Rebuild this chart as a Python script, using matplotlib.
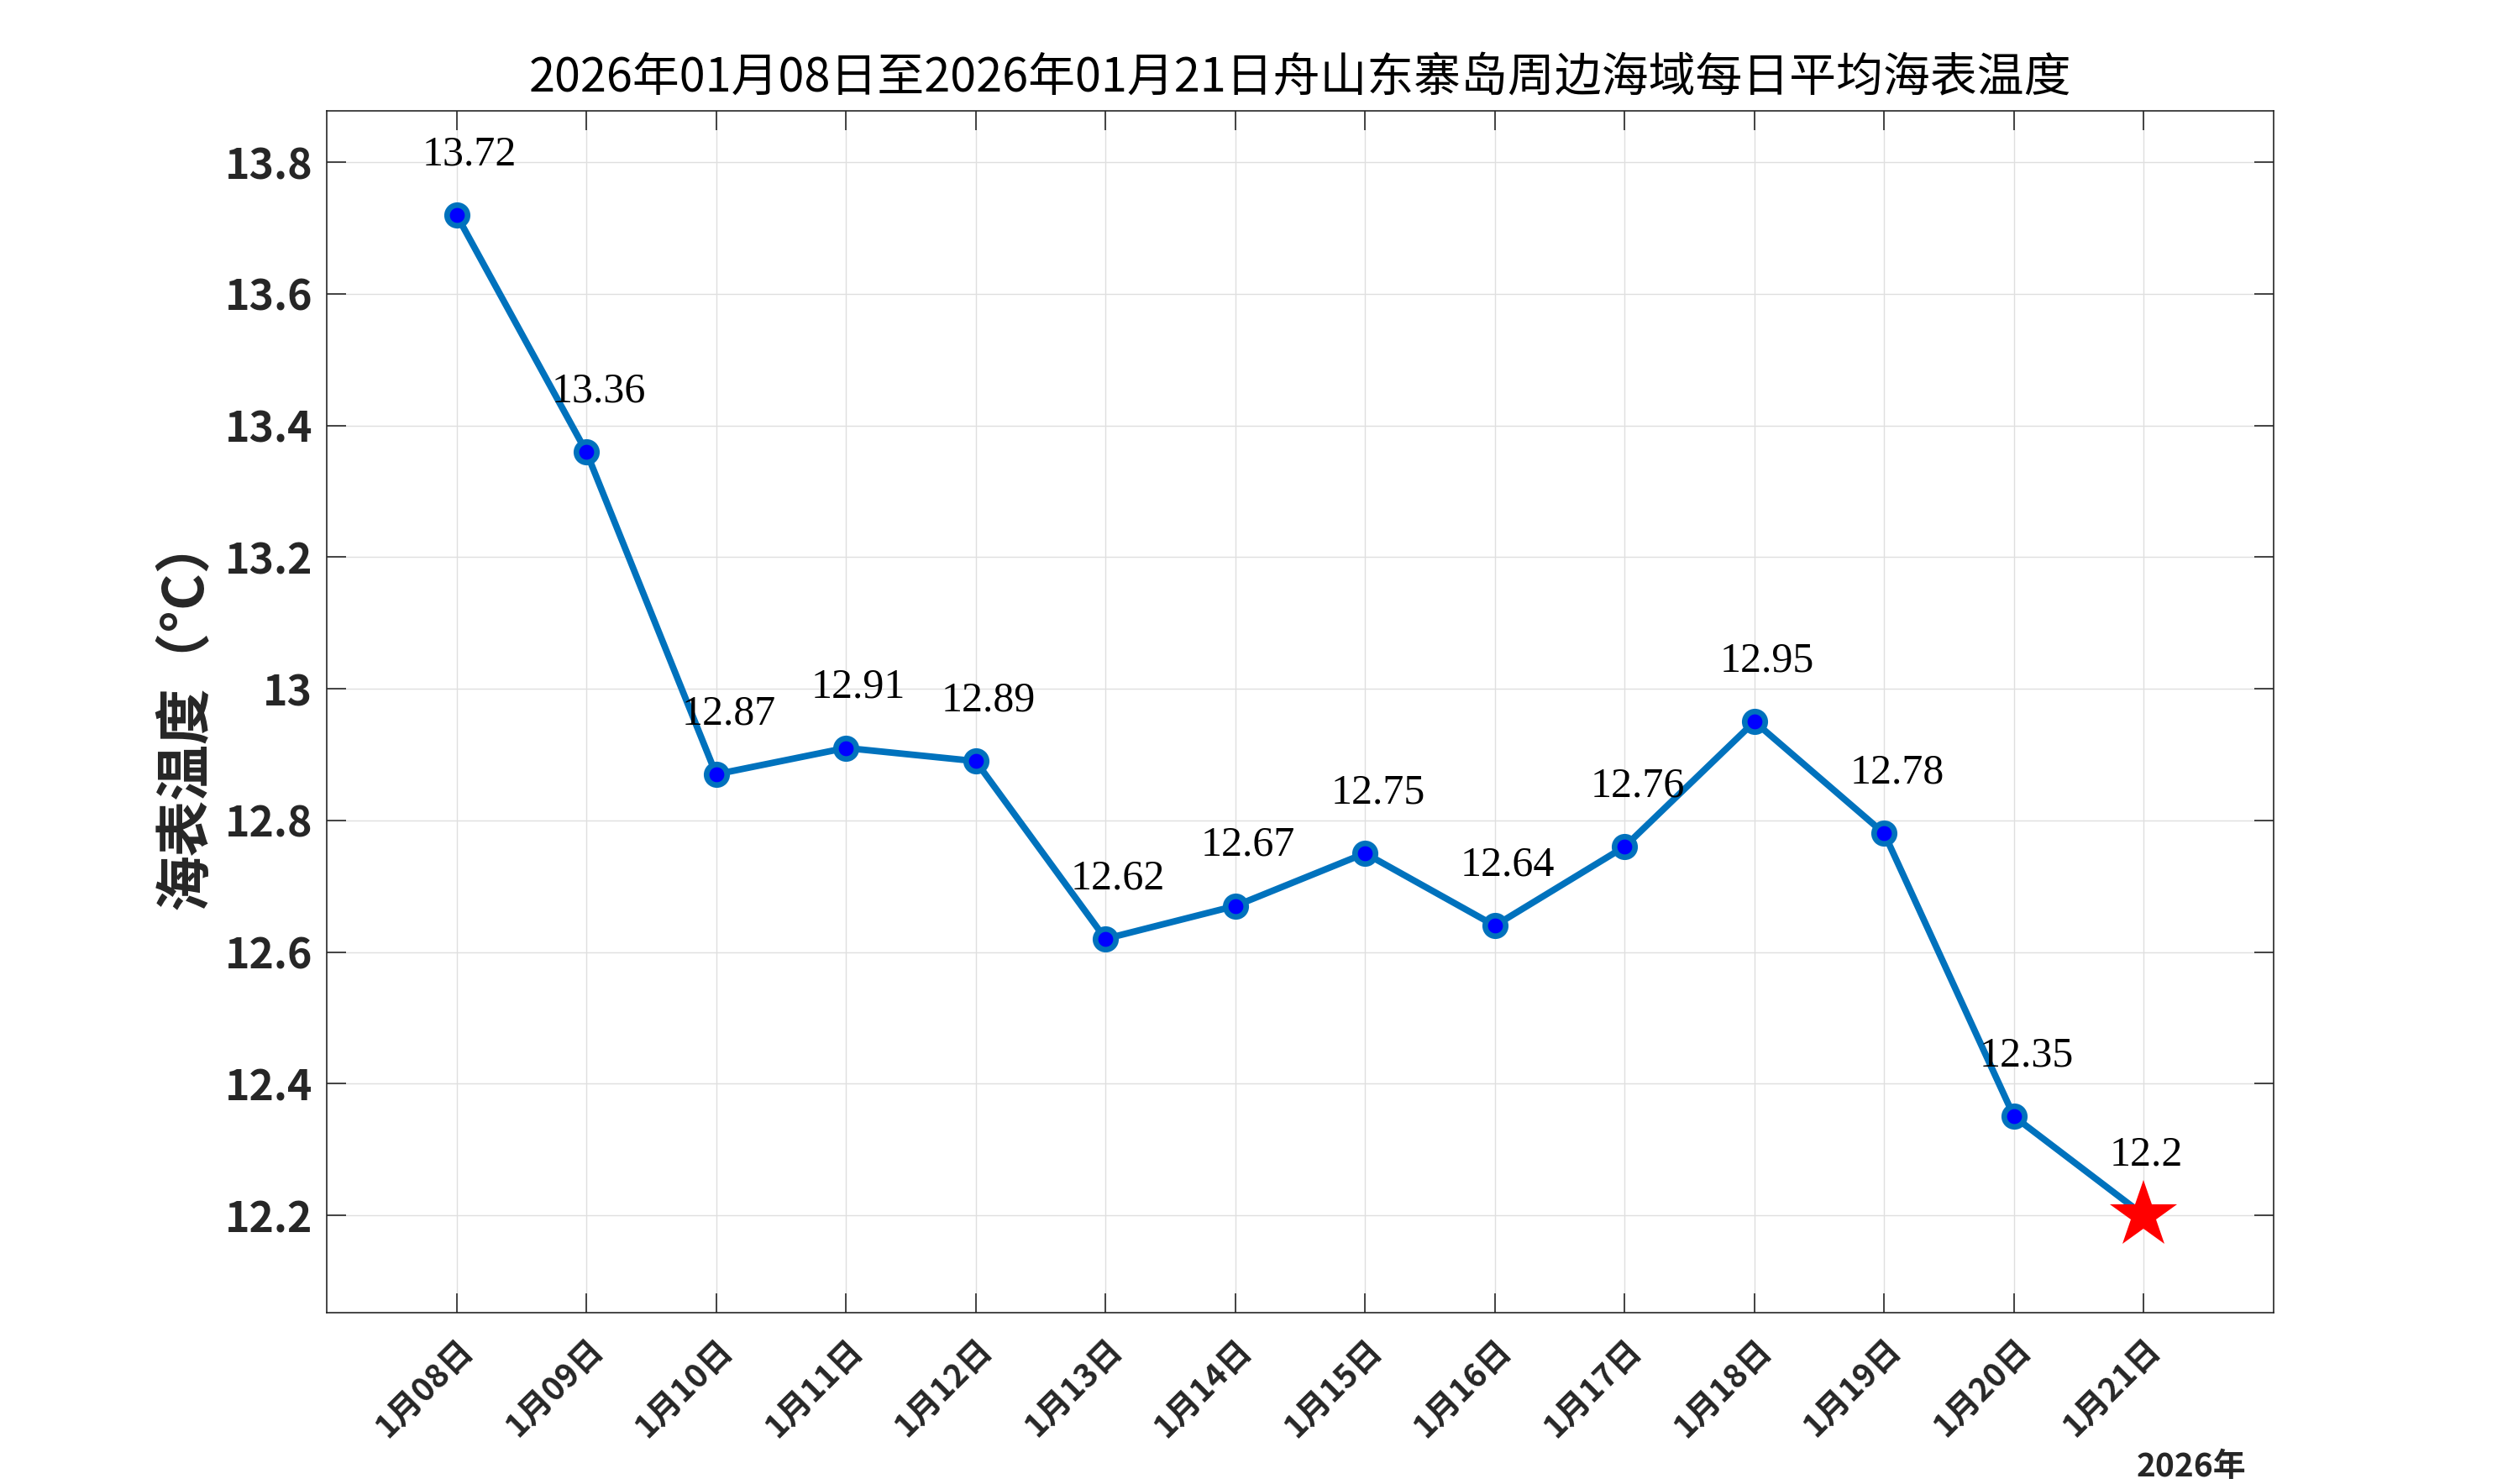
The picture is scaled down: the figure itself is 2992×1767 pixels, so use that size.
import matplotlib
matplotlib.use("Agg")
import matplotlib.pyplot as plt
from matplotlib.ticker import FuncFormatter, FixedLocator

# ---- data ----
dates = ["1月08日", "1月09日", "1月10日", "1月11日", "1月12日", "1月13日", "1月14日",
         "1月15日", "1月16日", "1月17日", "1月18日", "1月19日", "1月20日", "1月21日"]
sst = [13.72, 13.36, 12.87, 12.91, 12.89, 12.62, 12.67,
       12.75, 12.64, 12.76, 12.95, 12.78, 12.35, 12.2]
yticks = [12.2, 12.4, 12.6, 12.8, 13.0, 13.2, 13.4, 13.6, 13.8]
title = "2026年01月08日至2026年01月21日舟山东寨岛周边海域每日平均海表温度"
ylabel = "海表温度（°C）"
year_label = "2026年"

CJK = ["Noto Sans CJK SC", "DejaVu Sans"]
SERIF = ["Liberation Serif", "DejaVu Serif"]
plt.rcParams['font.family'] = CJK
plt.rcParams['axes.unicode_minus'] = False

W, H, DPI = 2992, 1767, 200
fig = plt.figure(figsize=(W / DPI, H / DPI), dpi=DPI)
L, R, T, B = 389, 2707, 132, 1563
ax = fig.add_axes([L / W, 1 - B / H, (R - L) / W, (B - T) / H])

x = list(range(len(sst)))
line_c = "#0072BD"
ax.plot(x, sst, color=line_c, lw=2.8, zorder=3)
ax.plot(x[:-1], sst[:-1], ls="none", marker="o", ms=8.8, mfc="#0000FF",
        mec=line_c, mew=2.4, zorder=4)
ax.plot(x[-1:], sst[-1:], ls="none", marker="*", ms=30.5, mfc="#FF0000",
        mec="#FF0000", mew=0, zorder=5)

for xi, v in zip(x, sst):
    ax.annotate(f"{v:g}", (xi, v), xytext=(-14.8, 21.5), textcoords="offset points",
                ha="left", va="baseline", fontsize=18, family=SERIF,
                color="black", zorder=6)

ax.set_xlim(-1, 14)
ax.set_ylim(12.052, 13.878)
ax.xaxis.set_major_locator(FixedLocator(x))
ax.set_xticklabels(dates)
ax.yaxis.set_major_locator(FixedLocator(yticks))
ax.yaxis.set_major_formatter(FuncFormatter(lambda v, p: f"{v:g}"))

axc = "#262626"
for s in ax.spines.values():
    s.set_color(axc)
    s.set_linewidth(0.6)
ax.tick_params(axis="both", which="major", direction="in", length=8.3, width=0.6,
               color=axc, top=True, right=True, labelcolor=axc)
ax.tick_params(axis="y", labelsize=18, pad=6)
ax.tick_params(axis="x", labelsize=14, pad=8.5)
for lab in ax.get_yticklabels():
    lab.set_fontweight("bold")
for lab in ax.get_xticklabels():
    lab.set_fontweight("bold")
    lab.set_rotation(45)
    lab.set_ha("right")
    lab.set_va("top")
    lab.set_rotation_mode("anchor")

ax.grid(True, color="#dfdfdf", lw=0.5)
ax.set_axisbelow(True)

ax.set_title(title, fontsize=20.1, color="black", pad=8.5)
ax.set_ylabel(ylabel, fontsize=24, fontweight="bold", color=axc, va="center")
ax.yaxis.set_label_coords((221 - L) / (R - L), 0.5)

fig.text(2609 / W, 1 - 1758 / H, year_label, ha="center", va="baseline",
         fontsize=14, fontweight="bold", color=axc)

fig.savefig("out.png", dpi=DPI, facecolor="white")
